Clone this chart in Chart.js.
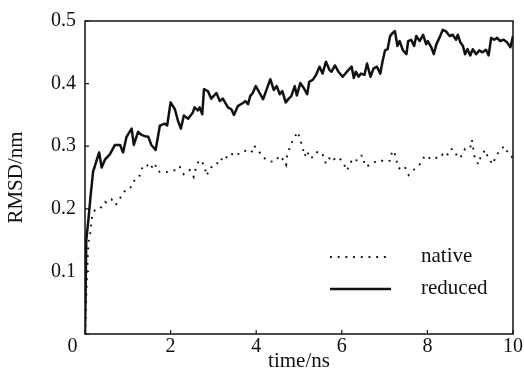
<!DOCTYPE html>
<html>
<head>
<meta charset="utf-8">
<script src="https://cdn.jsdelivr.net/npm/chart.js@4.4.1/dist/chart.umd.min.js"></script>
<style>
  html, body { margin: 0; padding: 0; background: #fff; }
  canvas { display: block; }
</style>
</head>
<body>
<canvas id="rmsd" width="524" height="378"></canvas>
<script>
// tick labels
const xTickLabels = ['0     ', '2', '4', '6', '8', '10'];
const yTickLabels = ['', '0.1', '0.2', '0.3', '0.4', '0.5'];

// reduced (solid)
const reducedTime = [0, 0.03, 0.08, 0.13, 0.19, 0.23, 0.33, 0.39, 0.47, 0.58, 0.70, 0.82, 0.89, 0.97, 1.09, 1.14, 1.24, 1.32, 1.40, 1.48, 1.55, 1.65, 1.75, 1.86, 1.92, 2.00, 2.10, 2.17, 2.24, 2.31, 2.41, 2.52, 2.56, 2.64, 2.68, 2.74, 2.78, 2.87, 2.95, 3.07, 3.15, 3.22, 3.34, 3.42, 3.48, 3.57, 3.69, 3.75, 3.81, 3.86, 3.92, 3.99, 4.08, 4.16, 4.24, 4.33, 4.41, 4.48, 4.55, 4.61, 4.69, 4.76, 4.82, 4.90, 4.95, 5.03, 5.11, 5.19, 5.24, 5.32, 5.40, 5.48, 5.55, 5.63, 5.71, 5.76, 5.84, 5.92, 6.02, 6.12, 6.23, 6.28, 6.33, 6.39, 6.45, 6.53, 6.59, 6.67, 6.74, 6.82, 6.90, 6.95, 7.01, 7.07, 7.13, 7.19, 7.24, 7.30, 7.35, 7.43, 7.51, 7.55, 7.62, 7.69, 7.74, 7.82, 7.90, 7.97, 8.01, 8.09, 8.15, 8.21, 8.28, 8.36, 8.44, 8.52, 8.59, 8.67, 8.71, 8.77, 8.83, 8.88, 8.94, 9.00, 9.06, 9.14, 9.21, 9.29, 9.37, 9.43, 9.49, 9.56, 9.63, 9.70, 9.78, 9.86, 9.94, 10.0];
const reducedRmsd = [0, 0.15, 0.183, 0.22, 0.26, 0.268, 0.29, 0.266, 0.279, 0.287, 0.302, 0.302, 0.29, 0.315, 0.328, 0.302, 0.323, 0.318, 0.316, 0.315, 0.302, 0.294, 0.333, 0.336, 0.333, 0.37, 0.359, 0.341, 0.328, 0.349, 0.344, 0.354, 0.362, 0.357, 0.362, 0.351, 0.391, 0.388, 0.376, 0.385, 0.372, 0.376, 0.362, 0.359, 0.35, 0.364, 0.369, 0.372, 0.367, 0.38, 0.385, 0.396, 0.385, 0.375, 0.39, 0.407, 0.39, 0.396, 0.383, 0.388, 0.37, 0.376, 0.38, 0.396, 0.381, 0.401, 0.393, 0.383, 0.403, 0.406, 0.414, 0.427, 0.416, 0.435, 0.422, 0.419, 0.429, 0.419, 0.411, 0.419, 0.427, 0.409, 0.419, 0.411, 0.416, 0.414, 0.432, 0.411, 0.424, 0.427, 0.416, 0.435, 0.453, 0.455, 0.476, 0.481, 0.484, 0.46, 0.468, 0.453, 0.447, 0.468, 0.47, 0.46, 0.476, 0.468, 0.478, 0.463, 0.468, 0.458, 0.447, 0.463, 0.473, 0.486, 0.483, 0.476, 0.478, 0.47, 0.478, 0.466, 0.46, 0.447, 0.455, 0.445, 0.455, 0.447, 0.453, 0.45, 0.454, 0.445, 0.473, 0.47, 0.473, 0.468, 0.47, 0.466, 0.458, 0.476];

// native (dotted)
const nativeTime = [0, 0.05, 0.08, 0.12, 0.16, 0.23, 0.35, 0.47, 0.51, 0.62, 0.72, 0.78, 0.88, 0.96, 1.09, 1.17, 1.28, 1.34, 1.44, 1.52, 1.63, 1.69, 1.83, 1.94, 2.12, 2.21, 2.31, 2.45, 2.54, 2.59, 2.66, 2.72, 2.80, 2.84, 2.93, 3.05, 3.16, 3.25, 3.36, 3.46, 3.52, 3.61, 3.68, 3.81, 3.89, 3.95, 4.04, 4.12, 4.22, 4.31, 4.41, 4.48, 4.55, 4.62, 4.70, 4.72, 4.78, 4.86, 4.97, 5.03, 5.09, 5.13, 5.19, 5.24, 5.35, 5.44, 5.55, 5.63, 5.67, 5.75, 5.81, 5.92, 6.04, 6.12, 6.18, 6.25, 6.33, 6.41, 6.49, 6.53, 6.57, 6.72, 6.88, 7.03, 7.13, 7.17, 7.21, 7.27, 7.31, 7.39, 7.47, 7.56, 7.66, 7.82, 7.90, 7.93, 8.01, 8.15, 8.24, 8.36, 8.44, 8.54, 8.63, 8.71, 8.79, 8.88, 9.00, 9.04, 9.10, 9.19, 9.25, 9.35, 9.42, 9.53, 9.60, 9.70, 9.80, 9.86, 9.97, 10.0];
const nativeRmsd = [0, 0.10, 0.146, 0.16, 0.185, 0.198, 0.2, 0.211, 0.209, 0.215, 0.206, 0.214, 0.222, 0.232, 0.235, 0.248, 0.253, 0.266, 0.271, 0.263, 0.273, 0.26, 0.258, 0.259, 0.262, 0.268, 0.255, 0.262, 0.251, 0.265, 0.277, 0.277, 0.266, 0.253, 0.266, 0.268, 0.281, 0.276, 0.288, 0.287, 0.284, 0.289, 0.292, 0.293, 0.29, 0.301, 0.293, 0.287, 0.279, 0.276, 0.275, 0.279, 0.285, 0.279, 0.27, 0.284, 0.297, 0.31, 0.323, 0.31, 0.297, 0.284, 0.293, 0.281, 0.283, 0.292, 0.287, 0.272, 0.277, 0.284, 0.279, 0.283, 0.273, 0.261, 0.271, 0.279, 0.276, 0.285, 0.285, 0.272, 0.267, 0.273, 0.278, 0.275, 0.277, 0.29, 0.293, 0.281, 0.266, 0.263, 0.267, 0.254, 0.261, 0.271, 0.279, 0.284, 0.28, 0.284, 0.28, 0.287, 0.283, 0.296, 0.294, 0.281, 0.284, 0.296, 0.297, 0.31, 0.284, 0.271, 0.284, 0.294, 0.281, 0.271, 0.284, 0.294, 0.3, 0.292, 0.283, 0.285];

const toPoints = (xs, ys) => xs.map((x, i) => ({x: x, y: ys[i]}));

const serif = 'Liberation Serif, Times New Roman, serif';
const ink = '#111';

// frame + inward ticks + in-plot legend
const framePlugin = {
    id: 'frame',
    afterDraw(chart) {
        const {ctx, chartArea: a, scales} = chart;
        ctx.save();
        ctx.strokeStyle = ink;
        ctx.lineWidth = 1.5;
        ctx.setLineDash([]);
        ctx.strokeRect(a.left, a.top, a.right - a.left, a.bottom - a.top);

        ctx.lineWidth = 1.2;
        ctx.beginPath();
        scales.x.ticks.forEach(t => {
            const px = scales.x.getPixelForValue(t.value);
            ctx.moveTo(px, a.bottom);
            ctx.lineTo(px, a.bottom - 4);
        });
        scales.y.ticks.forEach(t => {
            const py = scales.y.getPixelForValue(t.value);
            ctx.moveTo(a.left, py);
            ctx.lineTo(a.left + 4, py);
        });
        ctx.stroke();

        // legend
        const x0 = a.right - 183, x1 = a.right - 122, tx = a.right - 92;
        const rows = [a.bottom - 77, a.bottom - 45];
        ctx.font = '21px ' + serif;
        ctx.fillStyle = ink;
        ctx.textBaseline = 'middle';
        chart.data.datasets.forEach((ds, i) => {
            ctx.strokeStyle = ds.borderColor;
            ctx.lineWidth = ds.borderWidth;
            ctx.setLineDash(ds.borderDash || []);
            ctx.beginPath();
            ctx.moveTo(x0, rows[i]);
            ctx.lineTo(x1, rows[i]);
            ctx.stroke();
            ctx.fillText(ds.label, tx, rows[i] - 1);
        });
        ctx.restore();
    }
};

new Chart(document.getElementById('rmsd'), {
    type: 'line',
    data: {
        datasets: [
            {
                label: 'native',
                data: toPoints(nativeTime, nativeRmsd),
                borderColor: ink,
                borderWidth: 1.9,
                borderDash: [1.9, 5.8],
                pointRadius: 0,
                tension: 0
            },
            {
                label: 'reduced',
                data: toPoints(reducedTime, reducedRmsd),
                borderColor: ink,
                borderWidth: 2.5,
                borderJoinStyle: 'round',
                pointRadius: 0,
                tension: 0
            }
        ]
    },
    options: {
        responsive: false,
        animation: false,
        devicePixelRatio: 1,
        layout: {padding: {top: 13, right: 10, left: 0, bottom: 0}},
        plugins: {
            legend: {display: false},
            tooltip: {enabled: false}
        },
        scales: {
            x: {
                type: 'linear',
                min: 0,
                max: 10,
                grid: {display: false, drawTicks: false},
                border: {display: false},
                ticks: {
                    stepSize: 2,
                    autoSkip: false,
                    maxRotation: 0,
                    padding: 1,
                    color: ink,
                    font: {family: serif, size: 20},
                    callback: (v, i) => xTickLabels[i]
                },
                title: {
                    display: true,
                    text: 'time/ns',
                    color: ink,
                    font: {family: serif, size: 21},
                    padding: {top: 0, bottom: 4}
                },
                afterFit: s => { s.height = 44; }
            },
            y: {
                min: 0,
                max: 0.5,
                grid: {display: false, drawTicks: false},
                border: {display: false},
                ticks: {
                    stepSize: 0.1,
                    padding: 9,
                    color: ink,
                    font: {family: serif, size: 20},
                    callback: (v, i) => yTickLabels[i]
                },
                title: {
                    display: true,
                    text: 'RMSD/nm',
                    color: ink,
                    font: {family: serif, size: 21},
                    padding: {top: 4, bottom: 0}
                },
                afterFit: s => { s.width = 85; }
            }
        }
    },
    plugins: [framePlugin]
});
</script>
</body>
</html>
